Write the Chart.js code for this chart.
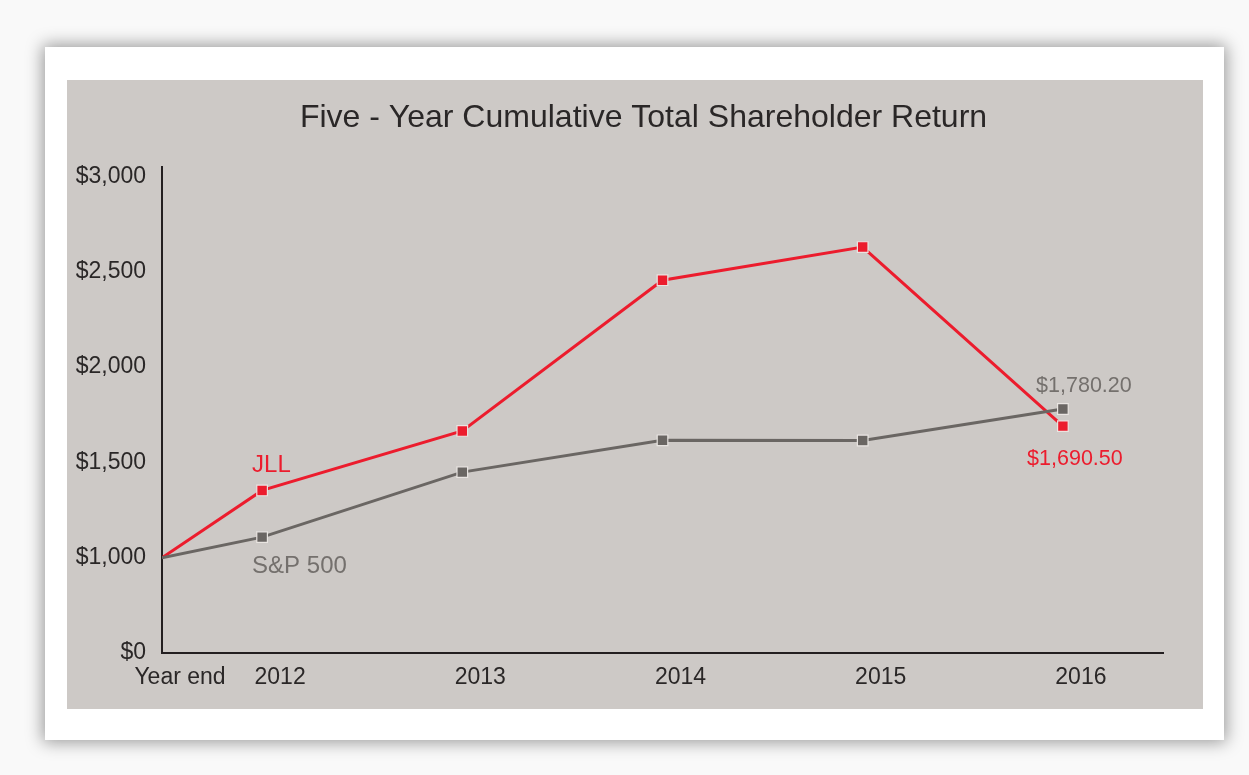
<!DOCTYPE html>
<html>
<head>
<meta charset="utf-8">
<script src="https://cdn.jsdelivr.net/npm/chart.js@4.4.1/dist/chart.umd.min.js"></script>
<style>
  html, body { margin: 0; padding: 0; }
  body { width: 1249px; height: 775px; background: #f9f9f9; position: relative; overflow: hidden; }
  #card { position: absolute; left: 45px; top: 47px; width: 1179px; height: 693px; background: #ffffff;
          box-shadow: 0 0 16px 2px rgba(0,0,0,0.40); }
  #panel { position: absolute; left: 67px; top: 80px; width: 1136px; height: 629px; background: #cdc9c6; }
  canvas { display: block; }
</style>
</head>
<body>
<div id="card"></div>
<div id="panel"><canvas id="c" width="1136" height="629"></canvas></div>
<script>
// ---- data ----
const chartTitle = 'Five - Year Cumulative Total Shareholder Return';
const xValues = [2011.5, 2012, 2013, 2014, 2015, 2016];
const xTickLabels = ['Year end', '2012', '2013', '2014', '2015', '2016'];
const jllValues = [1000, 1353, 1665, 2456, 2630, 1690.50];
const spValues = [1000, 1108, 1449, 1616, 1615, 1780.20];
const yTickValues = [500, 1000, 1500, 2000, 2500, 3000];
const yTickLabels = ['$0', '$1,000', '$1,500', '$2,000', '$2,500', '$3,000'];
const seriesNames = ['JLL', 'S&P 500'];
const endLabels = ['$1,690.50', '$1,780.20'];

// ---- styling ----
const RED = '#ec1c2d';
const GREY = '#6a6663';
const FONT = '"Liberation Sans", Arial, sans-serif';
const TEXT = '#2a2727';

const toPts = vals => vals.map((v, i) => ({ x: xValues[i], y: v }));
const radii = xValues.map((_, i) => i === 0 ? 0 : 7.5);

// dataset indices: 0 = S&P 500 (drawn first), 1 = JLL (on top)
const notes = [
  { text: seriesNames[0], ds: 1, idx: 1, dx: -10, dy: -25, align: 'left', color: RED, size: 24 },
  { text: seriesNames[1], ds: 0, idx: 1, dx: -10, dy: 29, align: 'left', color: '#74706d', size: 24 },
  { text: endLabels[0], ds: 1, idx: 5, dx: 12, dy: 33, align: 'center', color: RED, size: 21.5 },
  { text: endLabels[1], ds: 0, idx: 5, dx: 21, dy: -23, align: 'center', color: '#74706d', size: 21.5 }
];

const notePlugin = {
  id: 'notes',
  afterDraw(chart) {
    const ctx = chart.ctx;
    ctx.save();
    ctx.textBaseline = 'middle';
    // title, centred on the grey panel
    ctx.font = '32px ' + FONT;
    ctx.fillStyle = TEXT;
    ctx.textAlign = 'center';
    ctx.fillText(chartTitle, 576.5, 38);
    notes.forEach(n => {
      const el = chart.getDatasetMeta(n.ds).data[n.idx];
      ctx.font = n.size + 'px ' + FONT;
      ctx.fillStyle = n.color;
      ctx.textAlign = n.align;
      ctx.fillText(n.text, el.x + n.dx, el.y + n.dy);
    });
    ctx.restore();
  }
};

new Chart(document.getElementById('c'), {
  type: 'line',
  data: {
    datasets: [
      { label: seriesNames[1], data: toPts(spValues), borderColor: GREY, backgroundColor: GREY,
        borderWidth: 3, tension: 0, pointStyle: 'rect', pointRadius: radii,
        pointBackgroundColor: GREY, pointBorderColor: 'rgba(236,232,229,0.95)', pointBorderWidth: 1.2 },
      { label: seriesNames[0], data: toPts(jllValues), borderColor: RED, backgroundColor: RED,
        borderWidth: 3, tension: 0, pointStyle: 'rect', pointRadius: radii,
        pointBackgroundColor: RED, pointBorderColor: 'rgba(236,232,229,0.95)', pointBorderWidth: 1.2 }
    ]
  },
  options: {
    responsive: false,
    animation: false,
    devicePixelRatio: 1,
    layout: { padding: { left: 0, right: 40, top: 87, bottom: 0 } },
    plugins: {
      legend: { display: false },
      tooltip: { enabled: false },
      title: { display: false }
    },
    scales: {
      x: {
        type: 'linear', min: 2011.5, max: 2016.5,
        afterBuildTicks: s => { s.ticks = xValues.map(v => ({ value: v })); },
        afterFit: s => { s.height = 56; },
        grid: { display: false, drawTicks: false },
        border: { display: true, color: '#231f20', width: 2 },
        ticks: {
          autoSkip: false, maxRotation: 0, padding: 11, labelOffset: 18,
          color: TEXT, font: { family: FONT, size: 23 },
          callback: (v, i) => xTickLabels[i]
        }
      },
      y: {
        type: 'linear', min: 500, max: 3050,
        afterBuildTicks: s => { s.ticks = yTickValues.map(v => ({ value: v })); },
        afterFit: s => { s.width = 95; },
        grid: { display: false, drawTicks: false },
        border: { display: true, color: '#231f20', width: 2 },
        ticks: {
          padding: 16, color: TEXT, font: { family: FONT, size: 23 },
          callback: (v, i) => yTickLabels[i]
        }
      }
    }
  },
  plugins: [notePlugin]
});
</script>
</body>
</html>
